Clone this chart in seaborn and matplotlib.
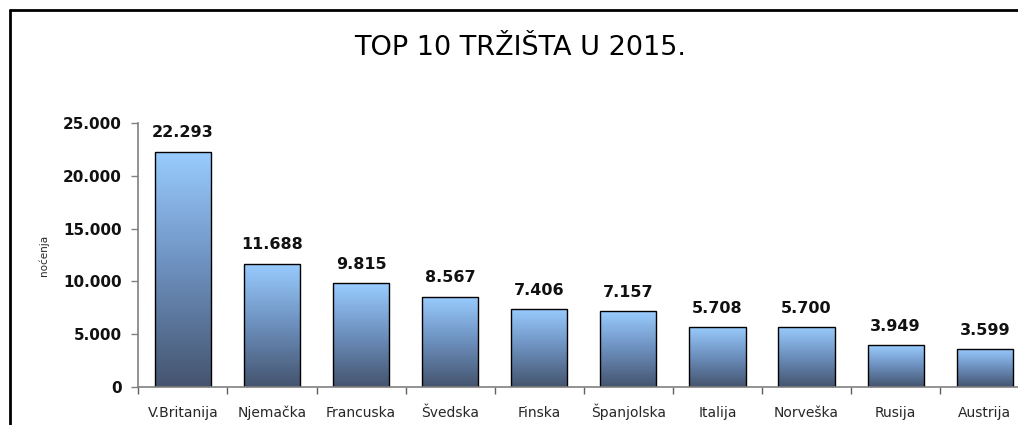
import numpy as np
import pandas as pd
import matplotlib
matplotlib.use("Agg")
import matplotlib.pyplot as plt
import seaborn as sns
from matplotlib.lines import Line2D
from matplotlib.ticker import FuncFormatter, FixedLocator

# podaci
trzista = ["V.Britanija", "Njemačka", "Francuska", "Švedska", "Finska",
           "Španjolska", "Italija", "Norveška", "Rusija", "Austrija"]
nocenja = [22293, 11688, 9815, 8567, 7406, 7157, 5708, 5700, 3949, 3599]
naslov = "TOP 10 TRŽIŠTA U 2015."
os_y = "noćenja"

df = pd.DataFrame({"trziste": trzista, "nocenja": nocenja})

sns.set_style("white")
plt.rcParams["font.family"] = ["DejaVu Sans"]

fig = plt.figure(figsize=(10.18, 4.25), dpi=100)
ax = fig.add_axes([0.1359, 0.0894, 0.8752, 0.6212])

sns.barplot(data=df, x="trziste", y="nocenja", color="#8fb8e8", width=0.63,
            edgecolor="black", linewidth=1.0, ax=ax)

# gradient u stupcima
grad = np.linspace(0, 1, 256).reshape(-1, 1)
cmap = matplotlib.colors.LinearSegmentedColormap.from_list(
    "g", ["#44546e", "#6c8fbd", "#99ccff"])
for p in ax.patches:
    x0, y0 = p.get_x(), p.get_y()
    w, h = p.get_width(), p.get_height()
    im = ax.imshow(grad, cmap=cmap, aspect="auto", origin="lower",
                   extent=[x0, x0 + w, y0, y0 + h], zorder=p.get_zorder())
    im.set_clip_path(p)
    p.set_facecolor("none")
    p.set_zorder(p.get_zorder() + 1)

ax.set_xlim(-0.5, len(trzista) - 0.5)
ax.set_ylim(0, 25000)

fmt = lambda v: f"{int(v):,}".replace(",", ".")
ax.bar_label(ax.containers[0], labels=[fmt(v) for v in nocenja], padding=8,
             fontsize=11.5, fontweight="bold", color="#111111")

ax.yaxis.set_major_locator(FixedLocator([0, 5000, 10000, 15000, 20000, 25000]))
ax.yaxis.set_major_formatter(FuncFormatter(lambda v, _: fmt(v)))
ax.tick_params(axis="y", length=5, width=1, color="#808080", pad=7,
               labelsize=11, left=True)
for t in ax.get_yticklabels():
    t.set_fontweight("bold")
    t.set_color("#111111")

# x: crtice izmedu kategorija, nazivi ispod stupaca
ax.set_xticks(np.arange(len(trzista)))
ax.set_xticklabels(trzista, fontsize=10, va="baseline")
ax.set_xticks(np.arange(len(trzista) + 1) - 0.5, minor=True)
ax.tick_params(axis="x", which="major", length=0, pad=21.5)
ax.tick_params(axis="x", which="minor", length=5, width=1, color="#606060",
               bottom=True, direction="out")

ax.set_xlabel("")
ax.set_ylabel(os_y, fontsize=7.5)
ax.yaxis.set_label_coords(-0.1, 0.5)

for s in ["top", "right"]:
    ax.spines[s].set_visible(False)
for s in ["left", "bottom"]:
    ax.spines[s].set_color("#808080")
    ax.spines[s].set_linewidth(1.2)

fig.text(0.511, 0.887, naslov, fontsize=19.5, ha="center", va="center",
         color="black")

# okvir
fig.add_artist(Line2D([10 / 1018, 1.0], [1 - 10 / 425, 1 - 10 / 425],
                      color="black", lw=2, transform=fig.transFigure))
fig.add_artist(Line2D([10 / 1018, 10 / 1018], [0, 1 - 10 / 425],
                      color="black", lw=2, transform=fig.transFigure))

fig.savefig("out.png", dpi=100)
